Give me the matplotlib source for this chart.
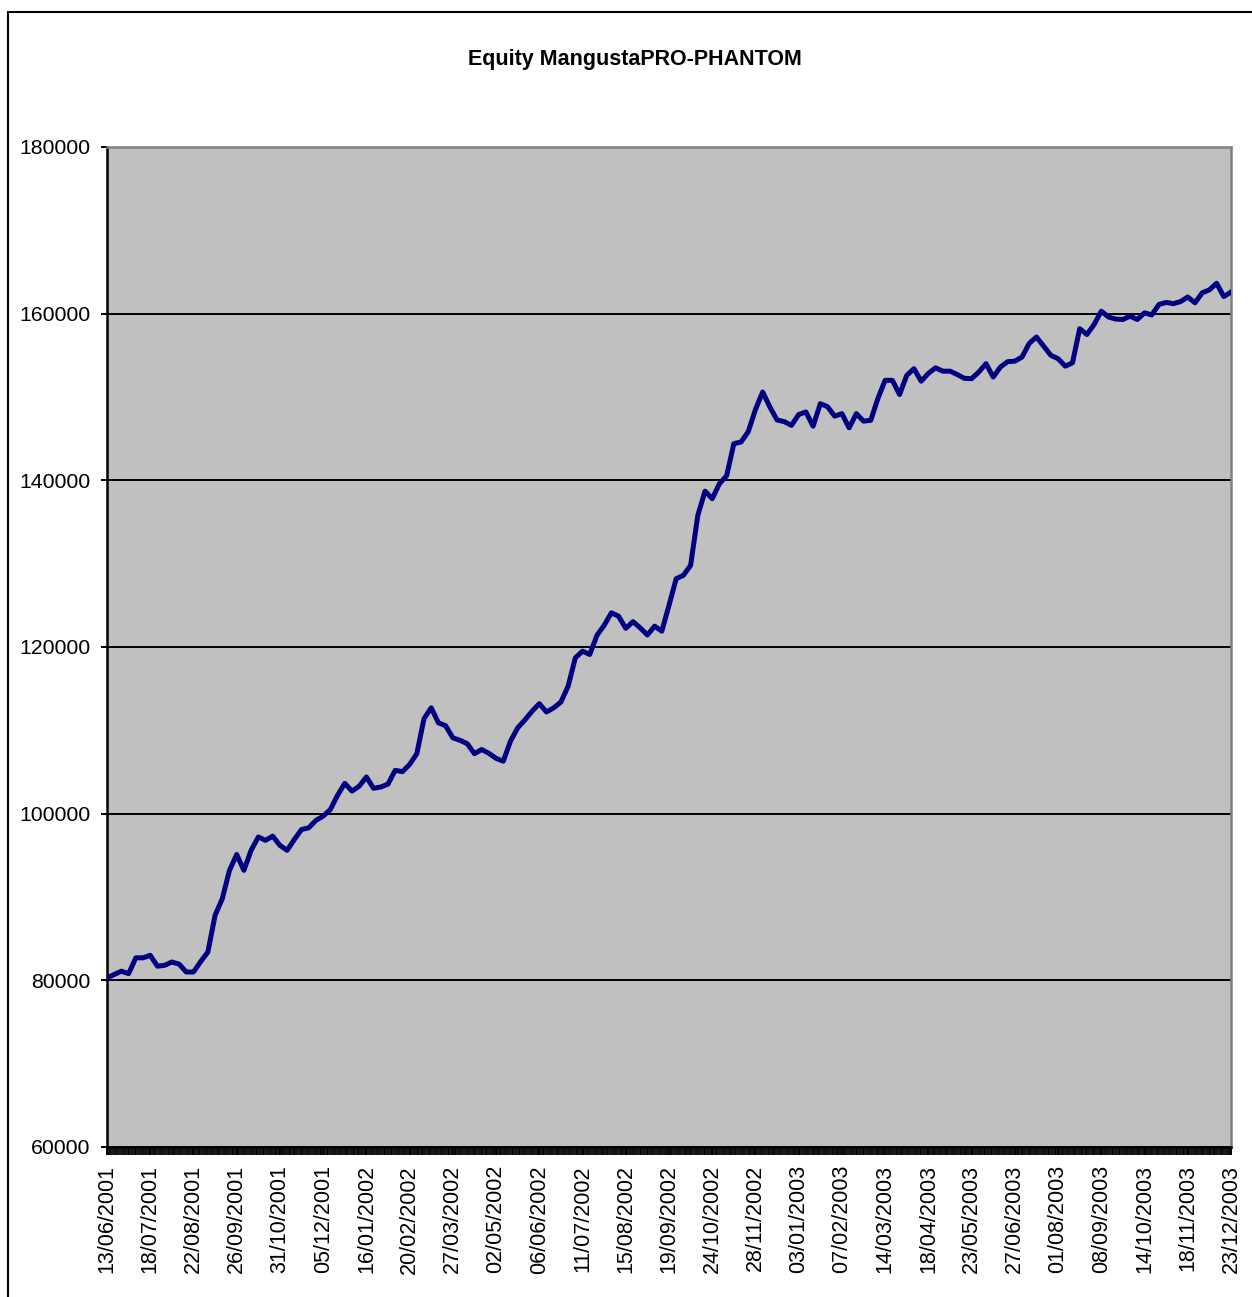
import numpy as np
import matplotlib
matplotlib.use("Agg")
import matplotlib.pyplot as plt
from matplotlib.patches import Rectangle
from matplotlib.ticker import MultipleLocator

# tick labels on the category (trading day) axis, one every 25 trading days
date_labels = [
    "13/06/2001", "18/07/2001", "22/08/2001", "26/09/2001", "31/10/2001",
    "05/12/2001", "16/01/2002", "20/02/2002", "27/03/2002", "02/05/2002",
    "06/06/2002", "11/07/2002", "15/08/2002", "19/09/2002", "24/10/2002",
    "28/11/2002", "03/01/2003", "07/02/2003", "14/03/2003", "18/04/2003",
    "23/05/2003", "27/06/2003", "01/08/2003", "08/09/2003", "14/10/2003",
    "18/11/2003", "23/12/2003",
]
days_per_label = 25
n_days = days_per_label * (len(date_labels) - 1)

equity = [
    80300, 80700, 81100, 80800, 82700, 82700, 83000, 81700, 81800, 82200,
    81950, 81000, 81000, 82240, 83400, 87800, 89800, 93200, 95100, 93200,
    95600, 97200, 96800, 97300, 96200, 95600, 96900, 98100, 98300, 99200,
    99700, 100500, 102200, 103640, 102700, 103300, 104400, 103040, 103200, 103550,
    105200, 105040, 105900, 107200, 111400, 112700, 110900, 110550, 109100, 108800,
    108400, 107200, 107700, 107240, 106640, 106300, 108700, 110300, 111250, 112300,
    113200, 112200, 112700, 113400, 115300, 118700, 119500, 119100, 121400, 122600,
    124100, 123700, 122240, 123040, 122300, 121440, 122500, 121900, 125000, 128200,
    128600, 129800, 135800, 138700, 137800, 139600, 140550, 144400, 144600, 145840,
    148500, 150600, 148800, 147240, 147040, 146600, 147900, 148200, 146500, 149200,
    148840, 147700, 148000, 146300, 148000, 147100, 147200, 149840, 152000, 152000,
    150300, 152600, 153400, 151900, 152840, 153500, 153100, 153100, 152700, 152240,
    152200, 153000, 154000, 152400, 153600, 154240, 154300, 154800, 156440, 157200,
    156100, 155000, 154600, 153700, 154100, 158200, 157500, 158700, 160300, 159600,
    159350, 159300, 159700, 159300, 160100, 159850, 161100, 161350, 161200, 161450,
    162000, 161300, 162500, 162850, 163650, 162050, 162600,
]

y_ticks = [60000, 80000, 100000, 120000, 140000, 160000, 180000]

W, H = 1252, 1297
fig = plt.figure(figsize=(W / 100, H / 100), dpi=100)
plt.rcParams["font.family"] = ["Liberation Sans", "DejaVu Sans"]

# chart frame (runs off the right and bottom of the image)
fig.patches.append(Rectangle((8 / W, -0.05), 1.2, 1 - 12 / H + 0.05,
                             transform=fig.transFigure, fill=False,
                             edgecolor="black", linewidth=1.5))

ax = fig.add_axes([107 / W, 1 - 1147 / H, (1231 - 107) / W, (1147 - 147) / H])
ax.set_facecolor("#C0C0C0")

days = np.linspace(0, n_days, len(equity))
ax.plot(days, equity, color="#000080", linewidth=3.6, solid_joinstyle="round", zorder=3)

ax.set_xlim(0, n_days)
ax.set_ylim(y_ticks[0], y_ticks[-1])
ax.set_yticks(y_ticks)
ax.set_yticklabels([str(v) for v in y_ticks])
ax.yaxis.grid(True, color="black", linewidth=1.4)
ax.set_axisbelow(True)

ax.set_xticks(np.arange(0, n_days + 1, days_per_label))
ax.set_xticklabels(date_labels, rotation=90)
ax.xaxis.set_minor_locator(MultipleLocator(1))

ax.tick_params(axis="y", labelsize=15.3, length=4, width=1.4, pad=8)
ax.tick_params(axis="x", which="major", labelsize=15.5, length=6, width=1.4, pad=7)
ax.tick_params(axis="x", which="minor", length=6, width=1.3)

ax.spines["left"].set_color("black")
ax.spines["left"].set_linewidth(1.8)
ax.spines["bottom"].set_color("black")
ax.spines["bottom"].set_linewidth(1.8)
ax.spines["top"].set_color("#808080")
ax.spines["top"].set_linewidth(1.8)
ax.spines["right"].set_color("#808080")
ax.spines["right"].set_linewidth(1.8)

fig.text(635 / W, 1 - 59 / H, "Equity MangustaPRO-PHANTOM", ha="center", va="center",
         fontsize=15.5, fontweight="bold")

fig.savefig("out.png", dpi=100)
